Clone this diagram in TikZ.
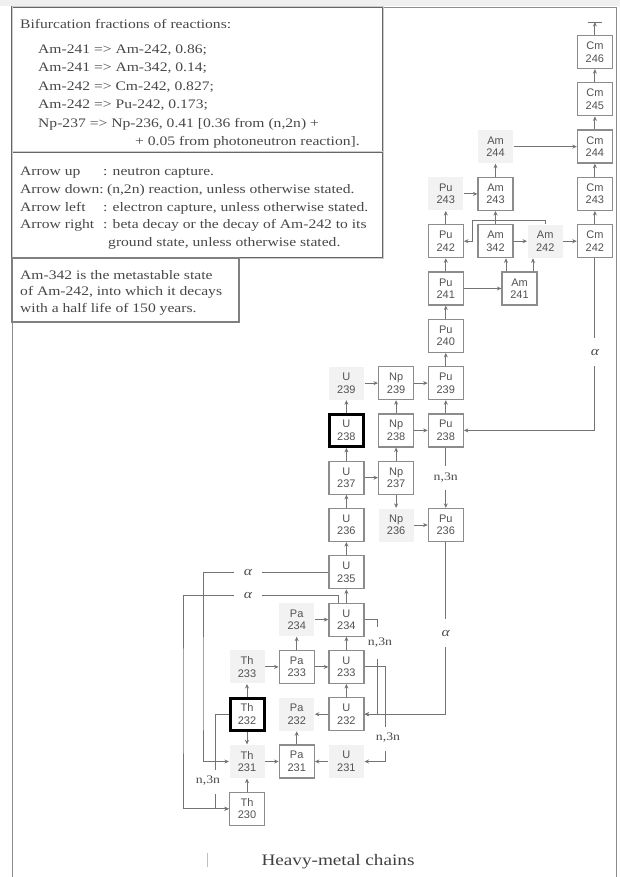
\documentclass[tikz,border=0pt]{standalone}
\usepackage{fontspec}
\setmainfont{Liberation Serif}[FakeStretch=1.2]
\setsansfont{Liberation Sans}
\usetikzlibrary{arrows.meta}
\tikzset{
  nuc/.style={draw=black!45, line width=1.2pt, minimum width=35pt, minimum height=33pt, inner sep=0pt, align=center, font=\sffamily\fontsize{11}{12.5}\selectfont, text=black!68},
  nucbold/.style={nuc, draw=black, line width=3pt, minimum width=34pt, minimum height=32pt},
  nucfree/.style={nuc, draw=none, fill=black!5},
  conn/.style={draw=black!55, line width=0.9pt, -{Stealth[length=4.5pt,width=4pt]}},
  wire/.style={draw=black!55, line width=0.9pt},
  alab/.style={inner sep=0pt, minimum width=28pt, minimum height=28pt, font=\fontsize{13}{13}\selectfont\itshape, text=black!70},
  nlab/.style={inner sep=1pt, minimum height=24pt, font=\fontsize{11.5}{12}\selectfont, text=black!70},
  txt/.style={anchor=west, inner sep=0pt, font=\fontsize{13}{15}\selectfont, text=black!72},
  dbl/.style={draw=black!60, line width=0.7pt, double=black!20, double distance=1pt},
  sbox/.style={draw=black!50, line width=1.4pt},
  frame/.style={draw=black!45, line width=0.9pt}
}
\begin{document}
\begin{tikzpicture}[x=1pt,y=-1pt]
\useasboundingbox (0,0) rectangle (620,877);
\fill[black!6] (0,0) rectangle (620,6);
\draw[frame] (12,877) -- (12,7) -- (616,7) -- (616,877);

% text boxes
\draw[dbl] (12,7) rectangle (383,152);
\draw[dbl] (12,152) rectangle (383,258);
\draw[sbox] (12,258) rectangle (239,322);

\node[txt] (t0) at (20,24) {Bifurcation fractions of reactions:};
\node[txt] (t1) at (38,50) {Am-241 => Am-242, 0.86;};
\node[txt] (t2) at (38,68.5) {Am-241 => Am-342, 0.14;};
\node[txt] (t3) at (38,87) {Am-242 => Cm-242, 0.827;};
\node[txt] (t4) at (38,105.5) {Am-242 => Pu-242, 0.173;};
\node[txt] (t5) at (38,124) {Np-237 => Np-236, 0.41 [0.36 from (n,2n) +};
\node[txt] (t6) at (135,142.5) {+ 0.05 from photoneutron reaction].};

\node[txt] (l1) at (20,173) {\makebox[83pt][l]{Arrow up}: neutron capture.};
\node[txt] (l2) at (20,190.5) {\makebox[83pt][l]{Arrow down:} (n,2n) reaction, unless otherwise stated.};
\node[txt] (l3) at (20,208) {\makebox[83pt][l]{Arrow left}: electron capture, unless otherwise stated.};
\node[txt] (l4) at (20,225.5) {\makebox[83pt][l]{Arrow right}: beta decay or the decay of Am-242 to its};
\node[txt] (l5) at (108,243) {ground state, unless otherwise stated.};

\node[txt] (m1) at (20,275) {Am-342 is the metastable state};
\node[txt] (m2) at (20,292) {of Am-242, into which it decays};
\node[txt] (m3) at (20,309) {with a half life of 150 years.};

% nuclides
\node[nuc] (Cm246) at (594.9,52) {Cm\\246};
\node[nuc] (Cm245) at (594.9,99.3) {Cm\\245};
\node[nuc] (Cm244) at (594.9,146.6) {Cm\\244};
\node[nuc] (Cm243) at (594.9,193.9) {Cm\\243};
\node[nuc] (Cm242) at (594.9,241.2) {Cm\\242};
\node[nucfree] (Am244) at (495.5,146.6) {Am\\244};
\node[nuc] (Am243) at (495.5,193.9) {Am\\243};
\node[nucfree] (Pu243) at (445.8,193.9) {Pu\\243};
\node[nuc] (Pu242) at (445.8,241.2) {Pu\\242};
\node[nuc] (Am342) at (495.5,241.2) {Am\\342};
\node[nucfree] (Am242) at (545.2,241.2) {Am\\242};
\node[nuc] (Pu241) at (445.8,288.5) {Pu\\241};
\node[nuc] (Am241) at (519.5,288.5) {Am\\241};
\node[nuc] (Pu240) at (445.8,335.8) {Pu\\240};
\node[nucfree] (U239) at (346.4,383.1) {U\\239};
\node[nuc] (Np239) at (396.1,383.1) {Np\\239};
\node[nuc] (Pu239) at (445.8,383.1) {Pu\\239};
\node[nucbold] (U238) at (346.4,430.4) {U\\238};
\node[nuc] (Np238) at (396.1,430.4) {Np\\238};
\node[nuc] (Pu238) at (445.8,430.4) {Pu\\238};
\node[nuc] (U237) at (346.4,477.7) {U\\237};
\node[nuc] (Np237) at (396.1,477.7) {Np\\237};
\node[nuc] (U236) at (346.4,525) {U\\236};
\node[nucfree] (Np236) at (396.1,525) {Np\\236};
\node[nuc] (Pu236) at (445.8,525) {Pu\\236};
\node[nuc] (U235) at (346.4,572.3) {U\\235};
\node[nucfree] (Pa234) at (296.7,619.6) {Pa\\234};
\node[nuc] (U234) at (346.4,619.6) {U\\234};
\node[nucfree] (Th233) at (247,666.9) {Th\\233};
\node[nuc] (Pa233) at (296.7,666.9) {Pa\\233};
\node[nuc] (U233) at (346.4,666.9) {U\\233};
\node[nucbold] (Th232) at (247,714.2) {Th\\232};
\node[nucfree] (Pa232) at (296.7,714.2) {Pa\\232};
\node[nuc] (U232) at (346.4,714.2) {U\\232};
\node[nucfree] (Th231) at (247,761.5) {Th\\231};
\node[nuc] (Pa231) at (296.7,761.5) {Pa\\231};
\node[nucfree] (U231) at (346.4,761.5) {U\\231};
\node[nuc] (Th230) at (247,808.8) {Th\\230};

% reaction labels
\node[alab] (aCm) at (594.9,352) {α};
\node[nlab] (nPu) at (445.8,477.7) {n,3n};
\node[alab] (aPu) at (445.8,633) {α};
\node[nlab] (nU4) at (380,643) {n,3n};
\node[nlab] (nU3) at (388,738) {n,3n};
\node[nlab] (nTh) at (208,781) {n,3n};
\node[alab] (aU5) at (248,572.3) {α};
\node[alab] (aU4) at (248,595) {α};

% neutron capture (up)
\foreach \a/\b in {Cm245/Cm246, Cm244/Cm245, Cm243/Cm244, Cm242/Cm243, Am243/Am244, Am342/Am243, Pu242/Pu243, Pu241/Pu242, Pu240/Pu241, Pu239/Pu240, Pu238/Pu239, Np238/Np239, Np237/Np238, U238/U239, U237/U238, U236/U237, U235/U236, U234/U235, U233/U234, U232/U233, Pa233/Pa234, Th232/Th233, Pa231/Pa232, Th230/Th231}
  \draw[conn] (\a.north) -- (\b.south);

% beta decay (right)
\foreach \a/\b in {Am244/Cm244, Pu243/Am243, Am342/Am242, Am242/Cm242, Pu241/Am241, U239/Np239, Np239/Pu239, Np238/Pu238, U237/Np237, Np236/Pu236, Th233/Pa233, Pa233/U233, Th231/Pa231, Pa234/U234}
  \draw[conn] (\a.east) -- (\b.west);

% electron capture (left)
\draw[conn] (U232.west) -- (Pa232.east);
\draw[conn] (U231.west) -- (Pa231.east);

% (n,2n) (down)
\draw[conn] (Th232.south) -- (Th231.north);
\draw[conn] (Np237.south) -- (Np236.north);

% Am-241 branches
\coordinate (xA) at (506,0);
\coordinate (xB) at (533,0);
\draw[conn] (Am241.north -| xA) -- (Am342.south -| xA);
\draw[conn] (Am241.north -| xB) -- (Am242.south -| xB);

% Am-242 -> Pu-242
\coordinate (w1) at (472,220);
\draw[conn] (Am242.north) |- (w1) |- (Pu242.east);

% Cm-246 capture to bar
\coordinate (cmtop) at (594.9,22);
\draw[conn] (Cm246.north) -- (cmtop);
\draw[wire] ([xshift=-7pt]cmtop) -- ([xshift=7pt]cmtop);

% alpha Cm-242 -> Pu-238
\draw[wire] (Cm242.south) -- (aCm.north);
\draw[conn] (aCm.south) |- (Pu238.east);

% n,3n Pu-238 -> Pu-236
\draw[wire] (Pu238.south) -- (nPu.north);
\draw[conn] (nPu.south) -- (Pu236.north);

% alpha Pu-236 -> U-232
\draw[wire] (Pu236.south) -- (aPu.north);
\draw[conn] (aPu.south) |- (U232.east);

% n,3n U-234 -> U-232
\coordinate (v4a) at (377,627);
\coordinate (v4b) at (377,659);
\draw[wire] (U234.east) -| (v4a);
\draw[conn] (v4b) |- (U232.east);

% n,3n U-233 -> U-231
\coordinate (v3a) at (385,727);
\coordinate (v3b) at (385,751);
\draw[wire] (U233.east) -| (v3a);
\draw[conn] (v3b) |- (U231.east);

% n,3n Th-232 -> Th-230
\coordinate (vTa) at (215,770);
\coordinate (vTb) at (215,794);
\draw[wire] (Th232.west) -| (vTa);
\draw[conn] (vTb) |- (Th230.west);

% alpha U-235 -> Th-231
\coordinate (k1) at (203,700);
\draw[wire] (U235.west) -- (aU5.east);
\draw[conn] (aU5.west) -| (k1) |- (Th231.west);

% alpha U-234 -> Th-230
\coordinate (k2) at (338,0);
\coordinate (k3) at (183,700);
\draw[wire] (U234.north -| k2) |- (aU4.east);
\draw[conn] (aU4.west) -| (k3) |- (Th230.west);

% caption
\node[font=\fontsize{16}{18}\selectfont, text=black!75, inner sep=0pt] (cap) at (338,862) {Heavy-metal chains};
\draw[black!25, line width=0.8pt] (207,853) -- (207,867);
\end{tikzpicture}
\end{document}
